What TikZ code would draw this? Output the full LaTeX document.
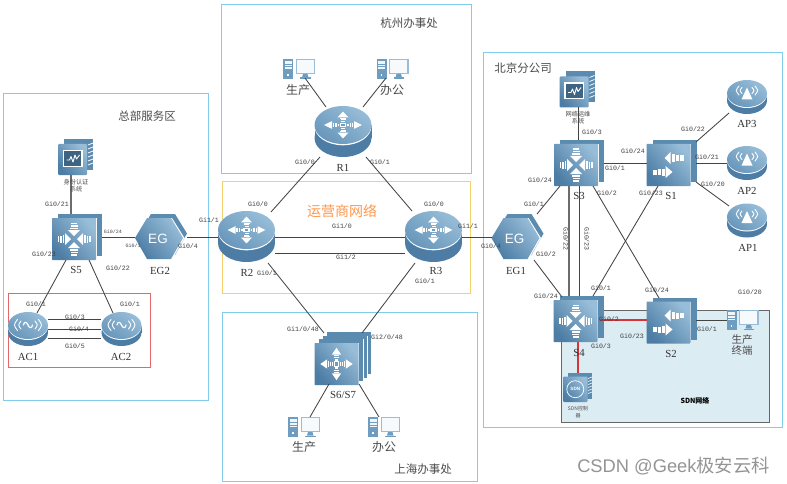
\documentclass[tikz,border=0pt]{standalone}
\usepackage{fontspec}
\setmainfont{Liberation Serif}
\newfontfamily\cjkf{Noto Sans CJK SC}
\newfontfamily\gifont{Liberation Mono}
\newfontfamily\sansf{Liberation Sans}
\usetikzlibrary{calc}
\definecolor{regionblue}{HTML}{7FCDEA}
\definecolor{regionyellow}{HTML}{F5D06E}
\definecolor{regionred}{HTML}{E06A6A}
\definecolor{sdnfill}{HTML}{DCECF3}
\definecolor{sdnedge}{HTML}{666666}
\definecolor{iconlight}{HTML}{97BDD8}
\definecolor{iconmid}{HTML}{6F9DC0}
\definecolor{icondark}{HTML}{4D7DA5}
\definecolor{iconback}{HTML}{5C8BB0}
\definecolor{linkc}{HTML}{444444}
\definecolor{redlink}{HTML}{D8333A}
\definecolor{gitext}{HTML}{404040}
\newcommand\fsz[1]{\fontsize{#1}{#1}\selectfont}
\newcommand\arrout{%
  \fill[white] (11,-5.5)--(19,0)--(11,5.5)--cycle;
  \fill[white] (4,-2) rectangle (5.5,2);
  \fill[white] (6.5,-2.5) rectangle (8,2.5);
  \fill[white] (9,-3) rectangle (10.3,3);}
\newcommand\arrin{%
  \fill[white] (9,-6)--(3,0)--(9,6)--cycle;
  \fill[white] (10,-4) rectangle (11.5,4);
  \fill[white] (12.5,-3.5) rectangle (14,3.5);
  \fill[white] (15,-3) rectangle (16.5,3);}
\newcommand\plate[3]{% layers, dx, dy
  \foreach \i in {#1,...,1}{%
    \fill[iconback] ({-22-#2*#1/2+#2*\i},{-21+#3*#1/2-#3*\i}) rectangle ({22-#2*#1/2+#2*\i},{21+#3*#1/2-#3*\i});
    \draw[white,line width=.5] ({22-#2*#1/2+#2*\i-#2},{-21+#3*#1/2-#3*\i+#3}) -- ({22-#2*#1/2+#2*\i-#2},{21+#3*#1/2-#3*\i+#3});
  }
  \shade[shading=axis,top color=iconlight,bottom color=icondark,shading angle=-50,rounded corners=.6]
    ({-22-#2*#1/2},{-21+#3*#1/2}) rectangle ({22-#2*#1/2},{21+#3*#1/2});}
\tikzset{
  region/.style={draw=regionblue,line width=1.2},
  link/.style={draw=linkc,line width=.85},
  hvy/.style={draw=gray!85!black,line width=1.5},
  redl/.style={draw=redlink,line width=1.6},
  dev/.style={inner sep=0pt,minimum size=#1},
  gilabel/.style={text=gitext,font=\gifont\fsz{6.6},inner sep=0pt},
  gismall/.style={text=gitext,font=\gifont\fsz{5},inner sep=0pt},
  devname/.style={text=black!80,font=\fsz{10.8},inner sep=0pt},
  cjklabel/.style={text=black!70,font=\cjkf\fsz{#1},inner sep=0pt,align=center},
  pics/router/.style={code={
    \fill[icondark] (0,6.5) ellipse[x radius=28.5,y radius=19];
    \fill[icondark] (-28.5,-6.5) rectangle (28.5,6.5);
    \fill[white] (0,-5.4) ellipse[x radius=28.5,y radius=19.2];
    \shade[shading=axis,top color=iconlight,bottom color=iconmid!80!icondark,shading angle=-35] (0,-6.5) ellipse[x radius=28.5,y radius=19];
    \begin{scope}[shift={(0,-6.5)},yscale=.7]
      \foreach \a in {0,90,180,270}{\begin{scope}[rotate=\a]\arrout\end{scope}}
      \fill[white] (-3.4,-3.4) rectangle (3.4,3.4);
      \fill[iconmid] (-1.8,-1.8) rectangle (1.8,1.8);
    \end{scope}
  }},
  pics/coresw/.style={code={
    \plate{1}{6}{4}
    \begin{scope}[shift={(-3,2)}]
      \foreach \a in {0,90,180,270}{\begin{scope}[rotate=\a]\arrin\end{scope}}
    \end{scope}
  }},
  pics/accsw/.style={code={
    \plate{1}{6}{4}
    \begin{scope}[shift={(-3,2)}]
      \fill[white] (-4,-7)--(2,-13)--(2,-1)--cycle;
      \fill[white] (3,-10.5) rectangle (6,-3.5);
      \fill[white] (7,-10) rectangle (10,-4);
      \fill[white] (11,-9.5) rectangle (15,-4.5);
      \fill[white] (4,7)--(-3,1)--(-3,13)--cycle;
      \fill[white] (-7,3.5) rectangle (-4,10.5);
      \fill[white] (-11,4) rectangle (-8,10);
      \fill[white] (-16,4.5) rectangle (-12,9.5);
    \end{scope}
  }},
  pics/stacksw/.style={code={
    \plate{3}{4.3}{3.7}
    \begin{scope}[shift={(-6.5,5.5)},scale=.85]
      \foreach \a in {0,90,180,270}{\begin{scope}[rotate=\a]\arrout\end{scope}}
      \fill[white] (-3.4,-3.4) rectangle (3.4,3.4);
      \fill[iconmid] (-1.8,-1.8) rectangle (1.8,1.8);
    \end{scope}
  }},
  pics/egw/.style={code={
    \fill[iconback] (-22,-3)--(-10,-22.5)--(14,-22.5)--(26,-3)--(14,18.5)--(-10,18.5)--cycle;
    \fill[white] (-26,1.5)--(-14,-18.5)--(11,-18.5)--(23.5,1.5)--(11,23)--(-14,23)--cycle;
    \shade[shading=axis,top color=iconlight,bottom color=icondark,shading angle=-50]
      (-26,1.5)--(-14,-18.5)--(10,-18.5)--(22,1.5)--(10,22.5)--(-14,22.5)--cycle;
  }},
  pics/disk/.style={code={
    \fill[icondark] (0,3.5) ellipse[x radius=20,y radius=13.5];
    \fill[icondark] (-20,-3.5) rectangle (20,3.5);
    \fill[white] (0,-2.7) ellipse[x radius=20,y radius=13.7];
    \shade[shading=axis,top color=iconlight,bottom color=iconmid!80!icondark,shading angle=-35] (0,-3.5) ellipse[x radius=20,y radius=13.5];
  }},
  pics/acpt/.style={code={
    \pic at (0,0) {disk};
    \begin{scope}[shift={(0,-4)},white,line width=.9,line cap=round]
      \draw (-7,-4) .. controls (-10,0) .. (-7,4);
      \draw (-10.5,-5.5) .. controls (-14.5,0) .. (-10.5,5.5);
      \draw (7,-4) .. controls (10,0) .. (7,4);
      \draw (10.5,-5.5) .. controls (14.5,0) .. (10.5,5.5);
      \draw[line width=1.2] (-4.5,0) .. controls (-4,-4) and (-1,-3) .. (0,0) .. controls (1,3) and (4,4) .. (4.5,0);
    \end{scope}
  }},
  pics/apt/.style={code={
    \pic at (0,0) {disk};
    \begin{scope}[shift={(0,-4)},white,line width=.9,line cap=round]
      \fill (0,-5.5)--(-5.5,6.5)--(5.5,6.5)--cycle;
      \draw (-5,-5.5) .. controls (-7.5,-2.5) .. (-5,.5);
      \draw (-8,-7) .. controls (-11.5,-2.5) .. (-8,2);
      \draw (5,-5.5) .. controls (7.5,-2.5) .. (5,.5);
      \draw (8,-7) .. controls (11.5,-2.5) .. (8,2);
    \end{scope}
  }},
  pics/srv/.style={code={
    \fill[iconback] (-11.5,-18) rectangle (17.5,13);
    \shade[shading=axis,top color=iconlight,bottom color=icondark,shading angle=-50,rounded corners=1] (-17.5,-13) rectangle (11.5,18);
    \foreach \yy in {-12,-8,-4,0,4,8}{\draw[white,line width=.8] (12.5,\yy) -- (17.5,{\yy-2});}
    \fill[white] (-13,-7) rectangle (7,10);
    \fill[icondark!80!black] (-11.5,-5.5) rectangle (5.5,8.5);
    \draw[white,line width=.9,line join=round] (-9,3)--(-6,3)--(-4.5,-.5)--(-2.5,5)--(-.5,-2)--(1,2)--(4,-2);
  }},
  pics/ctrl/.style={code={
    \fill[iconback] (-10,-14.5) rectangle (14.5,11);
    \shade[shading=axis,top color=iconlight,bottom color=icondark,shading angle=-50,rounded corners=1] (-14.5,-11) rectangle (10,14.5);
    \foreach \yy in {-9,-6,-3,0,3,6}{\draw[white,line width=.6] (10.7,\yy) -- (14.5,{\yy-1.5});}
    \draw[white,line width=.7] (-2.2,1.7) circle[radius=8.5];
  }},
  pics/pcx/.style={code={
    \fill[iconmid] (-16,-10) rectangle (-6,10);
    \fill[white!85!iconlight] (-14.5,-8) rectangle (-7.5,-5);
    \fill[white!85!iconlight] (-14.5,-4) rectangle (-7.5,-2.5);
    \fill[white!85!iconlight] (-14.5,-1.5) rectangle (-7.5,0);
    \fill[white] (-11.8,5) rectangle (-10.2,6.6);
    \fill[iconlight] (-3.5,-10) rectangle (16,5);
    \fill[white!92!iconlight] (-2.2,-8.7) rectangle (14.7,3.7);
    \fill[iconmid] (4,5)--(8.5,5)--(9.5,8.5)--(3,8.5)--cycle;
    \fill[iconmid] (1,8.5) rectangle (11.5,10);
  }},
}
\newcount\lblc
\newcommand\gi[2]{\global\advance\lblc by 1 \node[gilabel] (gi\the\lblc) at (#1) {#2};}
\newcommand\gis[2]{\global\advance\lblc by 1 \node[gismall] (gi\the\lblc) at (#1) {#2};}
\newcommand\dn[2]{\global\advance\lblc by 1 \node[devname] (dn\the\lblc) at (#1) {#2};}
\newcommand\cj[3]{\global\advance\lblc by 1 \node[cjklabel=#1] (cj\the\lblc) at (#2) {#3};}
\newcommand\device[4]{\pic at (#2) {#3}; \node[dev=#4] (#1) at (#2) {};}
\newcommand\lnk[5][link]{\draw[#1] ([shift={(#3)}]#2.center) -- ([shift={(#5)}]#4.center);}
\begin{document}
\begin{tikzpicture}[x=1pt,y=-1pt]
\useasboundingbox (0,0) rectangle (787,484);
\fill[white] (0,0) rectangle (787,484);
% regions
\draw[region] (3.5,93.5) rectangle (208.5,400.5);
\draw[region] (221.5,4.5) rectangle (471.5,173.5);
\draw[region] (222.5,312.5) rectangle (477.5,481.5);
\draw[region] (483.5,52.5) rectangle (782.5,427.5);
\draw[regionyellow,line width=1.1] (222.5,181.5) rectangle (470.5,293.5);
\draw[regionred,line width=1.1] (8.5,293.5) rectangle (150.5,367.5);
\draw[fill=sdnfill,draw=sdnedge,line width=1] (561,310) rectangle (769,422);
% devices
\device{R1}{343,131.5}{router}{45}
\device{R2}{246.5,236.5}{router}{45}
\device{R3}{433.5,236.5}{router}{45}
\device{S5}{77,237}{coresw}{40}
\device{S3}{579,163}{coresw}{40}
\device{S4}{578.5,319}{coresw}{40}
\device{S1}{671.5,163}{accsw}{40}
\device{S2}{671.5,320.5}{accsw}{40}
\device{S67}{343,358.5}{stacksw}{45}
\device{EG2}{161,236.5}{egw}{40}
\device{EG1}{517.5,236.5}{egw}{40}
\device{AC1}{28,329}{acpt}{30}
\device{AC2}{121.5,329}{acpt}{30}
\device{AP3}{747,97}{apt}{30}
\device{AP2}{747,163}{apt}{30}
\device{AP1}{747,220.5}{apt}{30}
\device{MA}{75.5,157}{srv}{30}
\device{MB}{577,89.5}{srv}{30}
\device{SDNC}{577.5,387.5}{ctrl}{25}
\device{HZa}{299,69}{pcx}{18}
\device{HZb}{392.5,69}{pcx}{18}
\device{SHa}{304,427}{pcx}{18}
\device{SHb}{384,427}{pcx}{18}
\device{PCs}{742.5,320}{pcx}{18}
\node[text=white,font=\sansf\fsz{13.5},inner sep=0pt] (EG2t) at ([shift={(-3,2)}]EG2.center) {EG};
\node[text=white,font=\sansf\fsz{13.5},inner sep=0pt] (EG1t) at ([shift={(-3,2)}]EG1.center) {EG};
\node[text=white,font=\sansf\bfseries\fsz{4.6},inner sep=0pt] (SDNt) at ([shift={(-2.2,1.7)}]SDNC.center) {SDN};
% links
\lnk{HZa}{6,9}{R1}{-17,-24.5}
\lnk{HZb}{-6.5,9}{R1}{20,-24.5}
\lnk{R1}{-23,25.5}{R2}{24.5,-24.5}
\lnk{R1}{23,25.5}{R3}{-21.5,-25.5}
\lnk{R2}{28.5,.5}{R3}{-28.5,.5}
\lnk{R2}{28.5,16.5}{R3}{-28.5,16.5}
\lnk{R2}{21.5,26.5}{S67}{-19,-25.5}
\lnk{R3}{-18.5,26.5}{S67}{19,-25.5}
\lnk{S67}{-14,25.5}{SHa}{6,-10}
\lnk{S67}{16,25.5}{SHb}{-5,-10}
\lnk{R3}{28.5,.5}{EG1}{-25.5,.5}
\lnk{EG2}{26,.5}{R2}{-28.5,.5}
\lnk{S5}{25,0}{EG2}{-26,.5}
\lnk[hvy]{MA}{-4.5,18}{S5}{-6,-23}
\lnk{S5}{-11,23}{AC1}{9,-16}
\lnk{S5}{12,23}{AC2}{-8.5,-16}
\lnk{AC1}{20,-10}{AC2}{-20.5,-10}
\lnk{AC1}{20,0}{AC2}{-20.5,0}
\lnk{AC1}{20,9}{AC2}{-20.5,9}
\lnk{MB}{1,17.5}{S3}{-1,-23}
\lnk{S3}{25,0}{S1}{-24.5,0}
\lnk{S1}{24.5,-21}{AP3}{-18,16}
\lnk{S1}{24.5,0}{AP2}{-20,0}
\lnk{S1}{24.5,19}{AP1}{-18,-14.5}
\lnk{S3}{-19,23}{EG1}{19.5,-22.5}
\lnk[hvy]{S3}{-10,23}{S4}{-9.5,-23}
\lnk{S3}{0,23}{S4}{.5,-23}
\lnk{S3}{14,23}{S2}{-12.5,-22.5}
\lnk{S1}{-13.5,23}{S4}{14.5,-23}
\lnk{EG1}{16.5,23.5}{S4}{-16.5,-22}
\lnk[redl]{S4}{21.5,1}{S2}{-24.5,-.5}
\lnk[redl]{S4}{-.5,23}{SDNC}{.5,-14.5}
\lnk{S2}{24.5,-.5}{PCs}{-15.5,0}
% region titles
\cj{11.5}{147,116}{总部服务区}
\cj{11.5}{409,23}{杭州办事处}
\cj{11.5}{423,469}{上海办事处}
\cj{11.5}{523,68}{北京分公司}
\node[cjklabel=14,text=orange!85!red!70] (opnet) at (342,211) {运营商网络};
% CJK labels
\cj{12}{298,90}{生产}
\cj{12}{392,90}{办公}
\cj{12}{304,447}{生产}
\cj{12}{384,447}{办公}
\cj{6.2}{76,185.5}{身份认证\\[.8pt]系统}
\cj{6.2}{578,117.5}{网络运维\\[.8pt]系统}
\cj{5}{578,412}{SDN控制\\[2.5pt]器}
\cj{10.5}{742,345}{生产\\[1pt]终端}
\node[cjklabel=7,font=\cjkf\bfseries\fsz{7},text=black] (sdnnet) at (695,401) {SDN网络};
% device names
\dn{343,168}{R1}
\dn{247,273}{R2}
\dn{436,271}{R3}
\dn{76,270}{S5}
\dn{160,271}{EG2}
\dn{516,271}{EG1}
\dn{579,196}{S3}
\dn{671,196}{S1}
\dn{579,353}{S4}
\dn{671,354}{S2}
\dn{343,395}{S6/S7}
\dn{28,357}{AC1}
\dn{121,357}{AC2}
\dn{747,124}{AP3}
\dn{747,191}{AP2}
\dn{748,248}{AP1}
% port labels
\gi{57,204}{Gi0/21}
\gis{113,232}{Gi0/24}
\gis{133,246}{Gi0/1}
\gi{188,246}{Gi0/4}
\gi{44,254}{Gi0/23}
\gi{118,268}{Gi0/22}
\gi{209,220}{Gi1/1}
\gi{36,304}{Gi0/1}
\gi{130,304}{Gi0/1}
\gi{75,317}{Gi0/3}
\gi{79,329}{Gi0/4}
\gi{75,346}{Gi0/5}
\gi{305,162}{Gi0/0}
\gi{380,162}{Gi0/1}
\gi{258,204}{Gi0/0}
\gi{434,204}{Gi0/0}
\gi{342,226}{Gi1/0}
\gi{346,257}{Gi1/2}
\gi{468,226}{Gi1/1}
\gi{267,273}{Gi0/1}
\gi{425,281.5}{Gi0/1}
\gi{491,246}{Gi0/4}
\gi{303,329}{Gi1/0/48}
\gi{387,337}{Gi2/0/48}
\gi{592,132}{Gi0/3}
\gi{633,151}{Gi0/24}
\gi{615,168}{Gi0/1}
\gi{607,193}{Gi0/2}
\gi{651,193}{Gi0/23}
\gi{693,129}{Gi0/22}
\gi{707,157}{Gi0/21}
\gi{713,184}{Gi0/20}
\gi{540,180}{Gi0/24}
\gi{534,204}{Gi0/1}
\gi{546,254}{Gi0/2}
\gi{546,296}{Gi0/24}
\node[gilabel,rotate=-90] (gi3s) at (566,239) {Gi0/22};
\node[gilabel,rotate=-90] (gi3t) at (587,239) {Gi0/23};
\gi{601,288}{Gi0/1}
\gi{657,290}{Gi0/24}
\gi{750,292}{Gi0/20}
\gi{609,319}{Gi0/2}
\gi{632,336}{Gi0/23}
\gi{707,329}{Gi0/1}
\gi{601,346}{Gi0/3}
% watermark
\node[text=black!42,font=\sansf\fsz{18.3},inner sep=0pt] (wm) at (673.5,466) {CSDN @Geek{\cjkf 极安云科}};
\end{tikzpicture}
\end{document}
